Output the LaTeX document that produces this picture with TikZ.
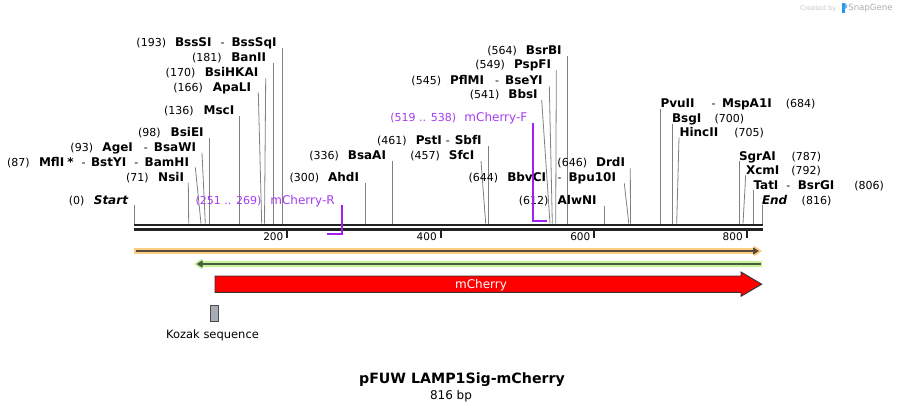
\documentclass[tikz,border=0pt]{standalone}
\usepackage{fontspec}
\setmainfont{DejaVu Sans}
\usetikzlibrary{arrows.meta}
\definecolor{cutgray}{RGB}{128,128,128}
\definecolor{primer}{RGB}{160,32,240}
\definecolor{primertxt}{RGB}{165,60,240}
\definecolor{rulerc}{RGB}{34,34,34}
\definecolor{orband}{RGB}{252,206,130}
\definecolor{orline}{RGB}{90,74,58}
\definecolor{grband}{RGB}{196,242,150}
\definecolor{grline}{RGB}{74,92,64}
\definecolor{kozakc}{RGB}{168,172,180}
\definecolor{sglogo}{RGB}{40,150,230}
\newcommand\nb[1]{{\fontsize{11}{13}\selectfont #1}}
\newcommand\nm[1]{{\fontsize{12}{14}\selectfont\bfseries #1}}
\newcommand\gp[1]{\hspace{#1pt}}
\newcommand\cutline[4]{\coordinate (#1t) at (#2,#3); \coordinate (#1s) at (#4,223.5); \draw[cut] (#1t) -- (#1s);}
\begin{document}
\begin{tikzpicture}[x=1pt,y=-1pt,
  lbl/.style={inner sep=0pt, outer sep=0pt},
  lleft/.style={lbl, anchor=base east},
  lright/.style={lbl, anchor=base west},
  cut/.style={draw=cutgray, line width=0.8pt},
  primline/.style={draw=primer, line width=1.8pt},
  rul/.style={draw=rulerc, line width=2.5pt},
  tick/.style={draw=rulerc, line width=2pt},
  ticklbl/.style={lbl, anchor=base east, font=\fontsize{10.5}{12}\selectfont}]
\useasboundingbox (0,0) rectangle (897,416);

% watermark
\node[lright, text=gray!45, font=\fontsize{6.6}{8}\selectfont] (wm1) at (800,10) {Created by};
\fill[sglogo] (842,3) rectangle (844.5,13);
\fill[sglogo!70] (844.5,3) -- (847,5) -- (847,8) -- (844.5,9) -- cycle;
\node[lright, text=gray!65, font=\fontsize{8.6}{10}\selectfont] (wm2) at (848.3,10.6) {SnapGene};

% ruler
\coordinate (ra0) at (134,224.8); \coordinate (ra1) at (762.7,224.8);
\coordinate (rb0) at (134,229.7); \coordinate (rb1) at (762.7,229.7);
\draw[rul] (ra0) -- (ra1);
\draw[rul] (rb0) -- (rb1);
\foreach \tx/\tl in {287.3/200,440.7/400,594.3/600,746.7/800}{
  \draw[tick] (\tx,230) -- (\tx,237.7);
  \node[ticklbl] (tk\tl) at (\tx-4,240.7) {\tl};
}

% cut site lines
\cutline{start}{134.3}{205}{134.3}
\cutline{nsi}{188.3}{182.7}{188.7}
\cutline{bam}{195.3}{167.3}{201.0}
\cutline{bsaw}{202}{152.7}{205.3}
\cutline{bsie}{209.3}{137.7}{209.3}
\cutline{msc}{239.3}{116}{239.3}
\cutline{apal}{258.3}{92.3}{261.7}
\cutline{bsihk}{265.7}{78.3}{264.5}
\cutline{ban}{273.3}{62.7}{273.3}
\cutline{bsss}{282.3}{48.3}{282.3}
\cutline{ahd}{365.7}{182.7}{365.7}
\cutline{bsaa}{392.3}{161}{392.3}
\cutline{sfc}{481}{161}{485.7}
\cutline{pst}{488.3}{146}{488.3}
\cutline{bbs}{541.7}{100}{550}
\cutline{pflm}{549.3}{86}{552.3}
\cutline{pspf}{556.3}{70}{555.7}
\cutline{bsrb}{567.3}{56}{567.3}
\cutline{alwn}{604.3}{206}{604.3}
\cutline{bbvc}{624.3}{183.3}{628.8}
\cutline{drd}{630.3}{168.3}{630.5}
\cutline{pvu}{660.3}{109.3}{660.3}
\cutline{bsg}{672}{124}{672}
\cutline{hinc}{679}{137.3}{676.7}
\cutline{sgra}{739.3}{161}{739.3}
\cutline{xcm}{745.7}{175}{743}
\cutline{tat}{753.3}{190}{753.3}
\cutline{end}{762.3}{205}{762.3}

% left-side labels
\node[lleft] (Lstart) at (128,204.3) {\nb{(0)}\gp{9.5}\nm{\itshape Start}};
\node[lleft] (Lnsi) at (184,181) {\nb{(71)}\gp{9.5}\nm{NsiI}};
\node[lleft] (Lbam) at (189,166) {\nb{(87)}\gp{9.4}\nm{MflI}\gp{3}\nm{*}\gp{8}\nb{-}\gp{5.5}\nm{BstYI}\gp{8}\nb{-}\gp{6.5}\nm{BamHI}};
\node[lleft] (Lbsaw) at (196,151) {\nb{(93)}\gp{9.4}\nm{AgeI}\gp{11}\nb{-}\gp{6}\nm{BsaWI}};
\node[lleft] (Lbsie) at (203.7,136) {\nb{(98)}\gp{10}\nm{BsiEI}};
\node[lleft] (Lmsc) at (234.3,114.3) {\nb{(136)}\gp{10}\nm{MscI}};
\node[lleft] (Lapal) at (251,91) {\nb{(166)}\gp{10}\nm{ApaLI}};
\node[lleft] (Lbsihk) at (258.3,76.6) {\nb{(170)}\gp{9.5}\nm{BsiHKAI}};
\node[lleft] (Lban) at (266,61) {\nb{(181)}\gp{9.5}\nm{BanII}};
\node[lleft] (Lbsss) at (276.7,46.6) {\nb{(193)}\gp{9}\nm{BssSI}\gp{9}\nb{-}\gp{7}\nm{BssSqI}};
\node[lleft] (Lahd) at (359,181) {\nb{(300)}\gp{9}\nm{AhdI}};
\node[lleft] (Lbsaa) at (386,159.3) {\nb{(336)}\gp{9}\nm{BsaAI}};
\node[lleft] (Lsfc) at (474.3,159.3) {\nb{(457)}\gp{9}\nm{SfcI}};
\node[lleft] (Lpst) at (481.7,144.3) {\nb{(461)}\gp{9.3}\nm{PstI}\gp{4}\nb{-}\gp{5}\nm{SbfI}};
\node[lleft] (Lbbs) at (537.7,98.6) {\nb{(541)}\gp{9}\nm{BbsI}};
\node[lleft] (Lpflm) at (542.7,84.3) {\nb{(545)}\gp{9}\nm{PflMI}\gp{11}\nb{-}\gp{6}\nm{BseYI}};
\node[lleft] (Lpspf) at (551,68.6) {\nb{(549)}\gp{9}\nm{PspFI}};
\node[lleft] (Lbsrb) at (561.7,54.3) {\nb{(564)}\gp{9}\nm{BsrBI}};
\node[lleft] (Lalwn) at (596.7,204.3) {\nb{(612)}\gp{9.3}\nm{AlwNI}};
\node[lleft] (Lbbvc) at (616,181) {\nb{(644)}\gp{9}\nm{BbvCI}\gp{11.5}\nb{-}\gp{7}\nm{Bpu10I}};
\node[lleft] (Ldrd) at (625,166) {\nb{(646)}\gp{9}\nm{DrdI}};

% right-side labels
\node[lright] (Lpvu) at (660.5,107) {\nm{PvuII}\gp{17}\nb{-}\gp{6.5}\nm{MspA1I}\gp{14}\nb{(684)}};
\node[lright] (Lbsg) at (672,122) {\nm{BsgI}\gp{13.3}\nb{(700)}};
\node[lright] (Lhinc) at (679.5,136.6) {\nm{HincII}\gp{16}\nb{(705)}};
\node[lright] (Lsgra) at (739,160.3) {\nm{SgrAI}\gp{15.6}\nb{(787)}};
\node[lright] (Lxcm) at (746,174.3) {\nm{XcmI}\gp{12}\nb{(792)}};
\node[lright] (Ltat) at (753.5,189.3) {\nm{TatI}\gp{8}\nb{-}\gp{7.4}\nm{BsrGI}\gp{20}\nb{(806)}};
\node[lright] (Lend) at (762,204.3) {\nm{\itshape End}\gp{14.4}\nb{(816)}};

% primers
\node[lleft, text=primertxt] (Lpf) at (527.3,121.6) {\nb{(519 .. 538)}\gp{8.3}{\fontsize{12}{14}\selectfont mCherry-F}};
\coordinate (pf1) at (532.7,123); \coordinate (pf2) at (532.7,220.7); \coordinate (pf3) at (546.7,220.7);
\draw[primline] (pf1) -- (pf2) -- (pf3);
\node[lright, text=primertxt] (Lpr) at (195.7,204.3) {\nb{(251 .. 269)}\gp{9}{\fontsize{12}{14}\selectfont mCherry-R}};
\coordinate (pr1) at (341.6,205); \coordinate (pr2) at (341.6,233.6); \coordinate (pr3) at (327.3,233.6);
\draw[primline] (pr1) -- (pr2) -- (pr3);

% orange feature
\draw[orband, line width=6pt] (134,251) -- (756,251);
\fill[orband] (754,245.5) -- (762,251) -- (754,256.5) -- cycle;
\draw[orline, line width=2pt, -{Triangle[length=6pt,width=7pt]}] (136,251) -- (759,251);

% green feature
\draw[grband, line width=6pt] (200,264) -- (762,264);
\fill[grband] (202,258.5) -- (194,264) -- (202,269.5) -- cycle;
\draw[grline, line width=2pt, -{Triangle[length=6pt,width=7pt]}] (760.7,264) -- (196.5,264);

% mCherry arrow
\draw[draw=black!80, fill=red, line width=0.9pt, line join=miter]
  (215,276) -- (741,276) -- (741,272) -- (761.7,284.2) -- (741,296.3) -- (741,292.3) -- (215,292.3) -- cycle;
\node[lbl, anchor=base, text=white, font=\fontsize{12}{14}\selectfont] (mch) at (481,288.5) {mCherry};

% Kozak
\draw[fill=kozakc, draw=black!70, line width=0.8pt] (210.3,305) rectangle (218.7,321.7);
\node[lbl, anchor=base, font=\fontsize{11.5}{13}\selectfont] (koz) at (212.5,338.3) {Kozak sequence};

% title
\node[lbl, anchor=base, font=\fontsize{14.2}{16}\selectfont\bfseries] (title) at (462,383.5) {pFUW LAMP1Sig-mCherry};
\node[lbl, anchor=base, font=\fontsize{12}{14}\selectfont] (bp) at (451,399.5) {816 bp};
\end{tikzpicture}
\end{document}
